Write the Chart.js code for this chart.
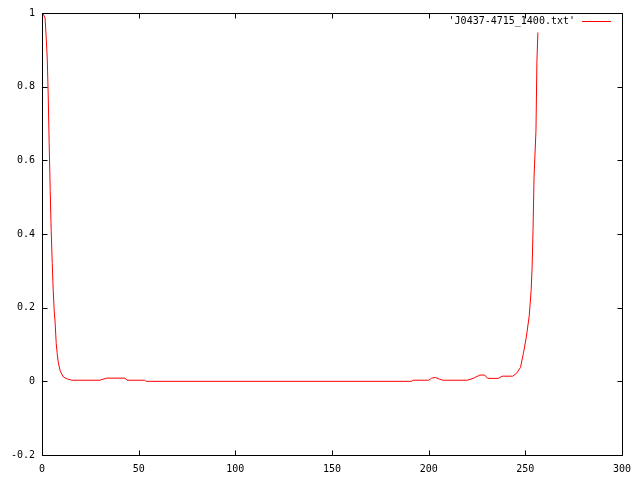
<!DOCTYPE html>
<html>
<head>
<meta charset="utf-8">
<script src="https://cdn.jsdelivr.net/npm/chart.js@4/dist/chart.umd.min.js"></script>
<style>
  html, body { margin: 0; padding: 0; background: #fff; }
  canvas { display: block; }
</style>
</head>
<body>
<canvas id="grafico" width="640" height="480"></canvas>
<script>
// Dados (x, valor)
const serieNome = "'J0437-4715_1400.txt'";
const xValores = [
  0.5, 1.6, 2.2, 2.7, 3.2, 3.7, 4.25, 4.75, 5.3, 5.8, 6.3, 6.8, 7.35, 7.85, 8.4,
  9.4, 11, 12.8, 15.4, 30, 31, 33.5, 43, 44, 53, 54,
  191, 192, 200, 201.5, 203.5, 205.5, 207.5, 220, 223, 226.5, 229, 230.5, 236, 238, 243.5,
  245.5, 247.5, 249, 250.5, 252, 253, 253.5, 254, 254.5, 255.5, 256, 256.5
];
const yValores = [
  1.0, 0.986, 0.93, 0.878, 0.78, 0.648, 0.518, 0.41, 0.32, 0.247, 0.193, 0.158, 0.103, 0.076, 0.052,
  0.028, 0.012, 0.007, 0.003, 0.003, 0.005, 0.0087, 0.0087, 0.003, 0.003, 0.0,
  0.0, 0.003, 0.003, 0.0085, 0.0106, 0.006, 0.003, 0.003, 0.008, 0.017, 0.017, 0.008, 0.008, 0.014, 0.014,
  0.022, 0.038, 0.076, 0.12, 0.177, 0.247, 0.31, 0.415, 0.555, 0.68, 0.87, 0.947
];
const xTicks = { min: 0, max: 300, step: 50 };
const yTicks = { min: -0.2, max: 1, step: 0.2 };

const fonte = { family: "'DejaVu Sans Mono', monospace", size: 10 };

// Moldura, marcas internas e legenda no estilo gnuplot
const molduraPlugin = {
  id: 'moldura',
  afterDraw(chart) {
    const { ctx, chartArea: a, scales } = chart;
    const tam = 5;
    ctx.save();
    ctx.strokeStyle = '#000';
    ctx.lineWidth = 1;
    ctx.beginPath();
    const l = Math.round(a.left) + 0.5, r = Math.round(a.right) + 0.5;
    const t = Math.round(a.top) + 0.5, b = Math.round(a.bottom) + 0.5;
    ctx.rect(l, t, r - l, b - t);
    scales.x.ticks.forEach(tk => {
      const px = Math.round(scales.x.getPixelForValue(tk.value)) + 0.5;
      ctx.moveTo(px, b); ctx.lineTo(px, b - tam);
      ctx.moveTo(px, t); ctx.lineTo(px, t + tam);
    });
    scales.y.ticks.forEach(tk => {
      const py = Math.round(scales.y.getPixelForValue(tk.value)) + 0.5;
      ctx.moveTo(l, py); ctx.lineTo(l + tam, py);
      ctx.moveTo(r, py); ctx.lineTo(r - tam, py);
    });
    ctx.stroke();

    // legenda
    ctx.font = fonte.size + 'px ' + fonte.family;
    ctx.fillStyle = '#000';
    ctx.textAlign = 'right';
    ctx.textBaseline = 'middle';
    ctx.fillText(serieNome, 575, 21);
    ctx.strokeStyle = '#ff0000';
    ctx.beginPath();
    ctx.moveTo(582, 21.5); ctx.lineTo(611, 21.5);
    ctx.stroke();
    ctx.restore();
  }
};

function criarGrafico() {
  const ctx = document.getElementById('grafico').getContext('2d');
  const pontos = xValores.map((x, i) => ({ x: x, y: yValores[i] }));

  new Chart(ctx, {
    type: 'line',
    data: {
      datasets: [{
        label: serieNome,
        data: pontos,
        borderColor: '#ff0000',
        borderWidth: 1,
        pointRadius: 0,
        tension: 0,
        fill: false
      }]
    },
    options: {
      responsive: false,
      animation: false,
      layout: { padding: { top: 12, right: 18, left: 0, bottom: 0 } },
      plugins: { legend: { display: false }, tooltip: { enabled: false } },
      scales: {
        x: {
          type: 'linear',
          min: xTicks.min,
          max: xTicks.max,
          grid: { display: false, drawTicks: false },
          border: { display: false },
          ticks: { stepSize: xTicks.step, padding: 8, color: '#000', font: fonte, maxRotation: 0 },
          afterFit: s => { s.height = 25; }
        },
        y: {
          min: yTicks.min,
          max: yTicks.max,
          grid: { display: false, drawTicks: false },
          border: { display: false },
          ticks: {
            stepSize: yTicks.step,
            padding: 7,
            color: '#000',
            font: fonte,
            callback: v => String(Number(v.toFixed(1)))
          },
          afterFit: s => { s.width = 42; }
        }
      }
    },
    plugins: [molduraPlugin]
  });
}

window.onload = criarGrafico;
</script>
</body>
</html>
